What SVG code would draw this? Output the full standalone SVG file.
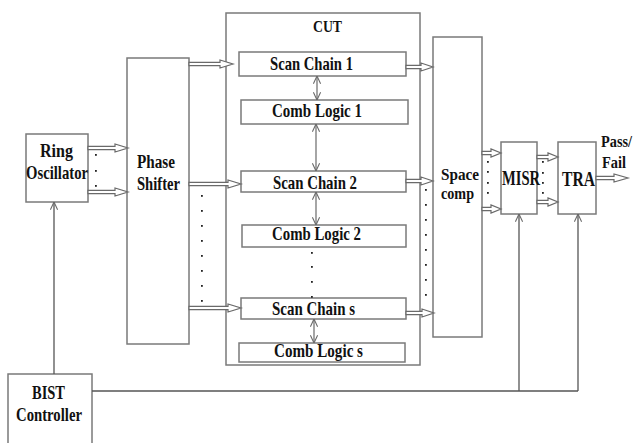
<svg xmlns="http://www.w3.org/2000/svg" width="637" height="443" viewBox="0 0 637 443">
  <style>
    .box { fill: #ffffff; stroke: #7a7a7a; stroke-width: 1.5; }
    .lbl { font-family: "Liberation Serif", "Times New Roman", serif; font-weight: bold; fill: #111; }
    .blk { fill: #ffffff; stroke: #6a6a6a; stroke-width: 1.2; stroke-linejoin: miter; }
    .wire { fill: none; stroke: #6a6a6a; stroke-width: 1.2; }
    .ctl { fill: none; stroke: #555; stroke-width: 1.3; }
    .dot { fill: #222; }
  </style>
  <defs>
    <marker id="vee" viewBox="0 0 10 10" refX="9.5" refY="5" markerWidth="9" markerHeight="9" markerUnits="userSpaceOnUse" orient="auto-start-reverse">
      <path d="M1,1 L9.5,5 L1,9" fill="none" stroke="#6a6a6a" stroke-width="1.2"/>
    </marker>
    <rect id="d" width="1.8" height="1.8" class="dot"/>
  </defs>

  <rect width="637" height="443" fill="#ffffff"/>

  <!-- Ring oscillator -->
  <g id="ring-oscillator">
    <rect class="box" x="26" y="134" width="62" height="68"/>
    <text class="lbl" font-size="19" x="40" y="157" textLength="33" lengthAdjust="spacingAndGlyphs">Ring</text>
    <text class="lbl" font-size="19" x="26" y="179" textLength="62" lengthAdjust="spacingAndGlyphs">Oscillator</text>
  </g>

  <!-- Phase shifter -->
  <g id="phase-shifter">
    <rect class="box" x="127" y="58" width="62" height="286"/>
    <text class="lbl" font-size="18" x="137" y="168" textLength="38" lengthAdjust="spacingAndGlyphs">Phase</text>
    <text class="lbl" font-size="18" x="137" y="190" textLength="43" lengthAdjust="spacingAndGlyphs">Shifter</text>
  </g>

  <!-- Circuit under test -->
  <g id="cut">
    <rect class="box" x="226" y="13" width="194" height="352"/>
    <text class="lbl" font-size="16" x="313" y="32" textLength="29" lengthAdjust="spacingAndGlyphs">CUT</text>
  </g>
  <g id="scan-chain-1">
    <rect class="box" x="239" y="52" width="167" height="24"/>
    <text class="lbl" font-size="19" x="270" y="70" textLength="83" lengthAdjust="spacingAndGlyphs">Scan Chain 1</text>
  </g>
  <g id="comb-logic-1">
    <rect class="box" x="241" y="100" width="167" height="24"/>
    <text class="lbl" font-size="19" x="272" y="117" textLength="90" lengthAdjust="spacingAndGlyphs">Comb Logic 1</text>
  </g>
  <g id="scan-chain-2">
    <rect class="box" x="241" y="171" width="165" height="21"/>
    <text class="lbl" font-size="19" x="273" y="189" textLength="84" lengthAdjust="spacingAndGlyphs">Scan Chain 2</text>
  </g>
  <g id="comb-logic-2">
    <rect class="box" x="242" y="225" width="164" height="22"/>
    <text class="lbl" font-size="19" x="272" y="240" textLength="89" lengthAdjust="spacingAndGlyphs">Comb Logic 2</text>
  </g>
  <g id="scan-chain-s">
    <rect class="box" x="241" y="298" width="165" height="21"/>
    <text class="lbl" font-size="19" x="272" y="315" textLength="83" lengthAdjust="spacingAndGlyphs">Scan Chain s</text>
  </g>
  <g id="comb-logic-s">
    <rect class="box" x="239" y="343" width="166" height="19"/>
    <text class="lbl" font-size="19" x="274" y="357" textLength="89" lengthAdjust="spacingAndGlyphs">Comb Logic s</text>
  </g>

  <!-- Space compactor -->
  <g id="space-comp">
    <rect class="box" x="433" y="37" width="49" height="300"/>
    <text class="lbl" font-size="17" x="441" y="180" textLength="38" lengthAdjust="spacingAndGlyphs">Space</text>
    <text class="lbl" font-size="17" x="441" y="199" textLength="33" lengthAdjust="spacingAndGlyphs">comp</text>
  </g>

  <!-- MISR -->
  <g id="misr">
    <rect class="box" x="501" y="142" width="36" height="72"/>
    <text class="lbl" font-size="21" x="502" y="185" textLength="38" lengthAdjust="spacingAndGlyphs">MISR</text>
  </g>

  <!-- Test response analyser -->
  <g id="tra">
    <rect class="box" x="558" y="142" width="38" height="72"/>
    <text class="lbl" font-size="20" x="562" y="186" textLength="33" lengthAdjust="spacingAndGlyphs">TRA</text>
  </g>

  <!-- BIST controller -->
  <g id="bist-controller">
    <rect class="box" x="8" y="374" width="84" height="75"/>
    <text class="lbl" font-size="19" x="32" y="399" textLength="33" lengthAdjust="spacingAndGlyphs">BIST</text>
    <text class="lbl" font-size="19" x="16" y="421" textLength="66" lengthAdjust="spacingAndGlyphs">Controller</text>
  </g>

  <!-- Output label -->
  <g id="pass-fail">
    <text class="lbl" font-size="16" x="601" y="147" textLength="31" lengthAdjust="spacingAndGlyphs">Pass/</text>
    <text class="lbl" font-size="17" x="602" y="168" textLength="24" lengthAdjust="spacingAndGlyphs">Fail</text>
  </g>

  <g id="connectors">
    <!-- bus arrows -->
    <path class="blk" d="M88,146.3 H115 V144 L128,148 L115,152 V149.7 H88 Z"/>
    <path class="blk" d="M88,190.3 H115 V188 L128,192 L115,196 V193.7 H88 Z"/>
    <path class="blk" d="M189,62.3 H220 V60 L233,64 L220,68 V65.7 H189 Z"/>
    <path class="blk" d="M189,182.3 H228 V180 L241,184 L228,188 V185.7 H189 Z"/>
    <path class="blk" d="M189,306.3 H228 V304 L241,308 L228,312 V309.7 H189 Z"/>
    <path class="blk" d="M406,65.3 H421 V63 L433,67 L421,71 V68.7 H406 Z"/>
    <path class="blk" d="M406,179.3 H421 V177 L433,181 L421,185 V182.7 H406 Z"/>
    <path class="blk" d="M406,311.3 H422 V309 L434,313 L422,317 V314.7 H406 Z"/>
    <path class="blk" d="M482,151.3 H491 V149 L501,153 L491,157 V154.7 H482 Z"/>
    <path class="blk" d="M482,207.3 H491 V205 L501,209 L491,213 V210.7 H482 Z"/>
    <path class="blk" d="M537,155.3 H548 V153 L558,157 L548,161 V158.7 H537 Z"/>
    <path class="blk" d="M537,200.3 H548 V198 L558,202 L548,206 V203.7 H537 Z"/>
    <path class="blk" d="M596,176.3 H614 V174 L628,178 L614,182 V179.7 H596 Z"/>

    <!-- scan chain / combinational logic links -->
    <line class="wire" x1="317" y1="76" x2="317" y2="100" marker-start="url(#vee)" marker-end="url(#vee)"/>
    <line class="wire" x1="316" y1="124" x2="316" y2="171" marker-start="url(#vee)" marker-end="url(#vee)"/>
    <line class="wire" x1="316" y1="192" x2="316" y2="225" marker-start="url(#vee)" marker-end="url(#vee)"/>
    <line class="wire" x1="314" y1="319" x2="314" y2="343" marker-start="url(#vee)" marker-end="url(#vee)"/>

    <!-- control lines from BIST controller -->
    <line class="ctl" x1="54" y1="374" x2="54" y2="202" marker-end="url(#vee)"/>
    <polyline class="ctl" points="92,391 578,391"/>
    <line class="ctl" x1="519" y1="391" x2="519" y2="214" marker-end="url(#vee)"/>
    <line class="ctl" x1="578" y1="391" x2="578" y2="214" marker-end="url(#vee)"/>

    <!-- ellipsis dots -->
    <use href="#d" x="95" y="154"/><use href="#d" x="95" y="170"/><use href="#d" x="95" y="185"/>
    <use href="#d" x="201" y="195"/><use href="#d" x="201" y="210"/><use href="#d" x="201" y="225"/><use href="#d" x="201" y="240"/>
    <use href="#d" x="201" y="255"/><use href="#d" x="201" y="270"/><use href="#d" x="201" y="285"/><use href="#d" x="201" y="300"/>
    <use href="#d" x="311" y="252"/><use href="#d" x="311" y="266"/><use href="#d" x="311" y="281"/><use href="#d" x="311" y="296"/>
    <use href="#d" x="425" y="189"/><use href="#d" x="425" y="204"/><use href="#d" x="425" y="219"/><use href="#d" x="425" y="234"/>
    <use href="#d" x="425" y="249"/><use href="#d" x="425" y="264"/><use href="#d" x="425" y="279"/><use href="#d" x="425" y="294"/>
    <use href="#d" x="487" y="161"/><use href="#d" x="487" y="171"/><use href="#d" x="487" y="182"/><use href="#d" x="487" y="192"/>
    <use href="#d" x="542" y="161"/><use href="#d" x="542" y="172"/><use href="#d" x="542" y="182"/><use href="#d" x="542" y="192"/>
  </g>
</svg>
